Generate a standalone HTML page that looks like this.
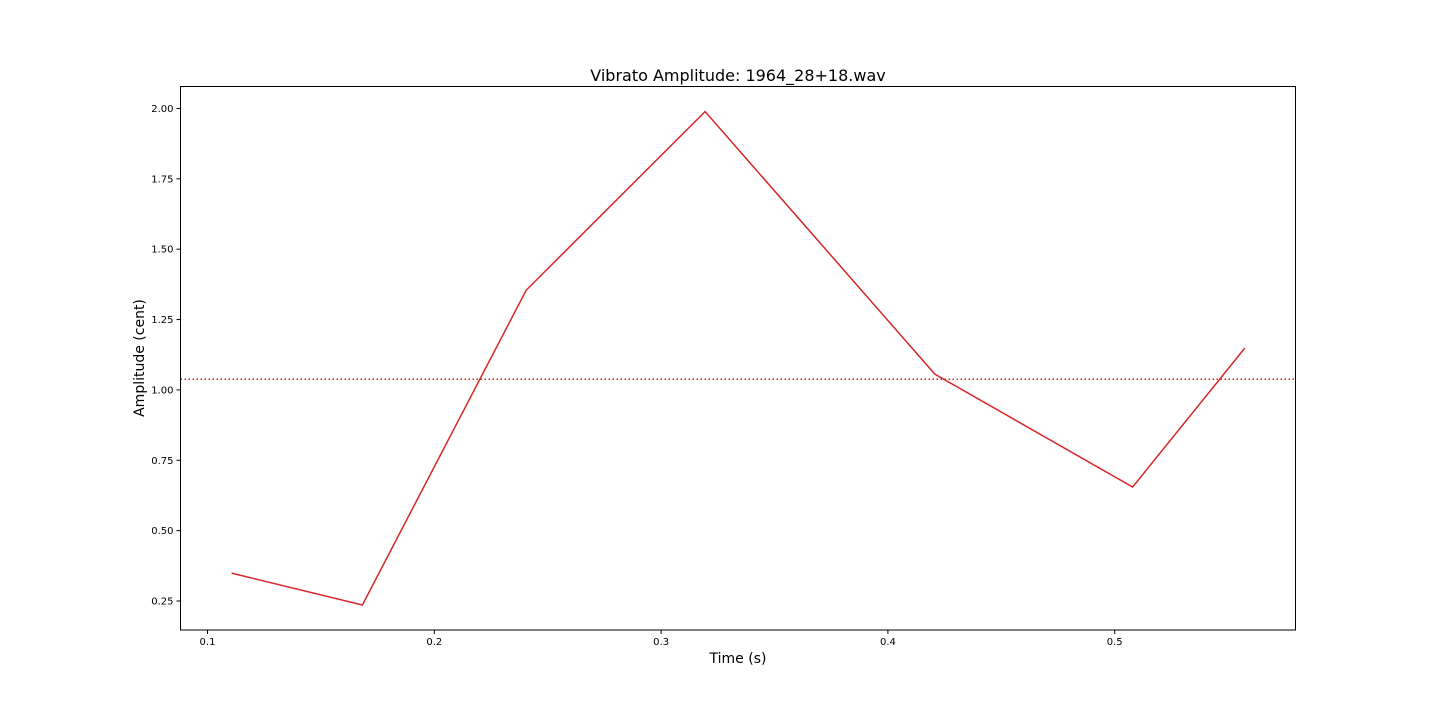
<!DOCTYPE html>
<html><head><meta charset="utf-8"><style>
body{margin:0;background:#fff;}
svg{display:block;font-family:"DejaVu Sans","Liberation Sans",sans-serif;}
</style></head><body>
<svg id="chart" width="1440" height="720">
<rect x="0" y="0" width="1440" height="720" fill="#fff"/>
<text x="738" y="81" text-anchor="middle" font-size="16">Vibrato Amplitude: 1964_28+18.wav</text>
<text x="738" y="663" text-anchor="middle" font-size="14">Time (s)</text>
<text transform="translate(144,358) rotate(-90)" text-anchor="middle" font-size="14">Amplitude (cent)</text>
<g id="ticks"></g>
<g id="marks"></g>
<rect x="180.5" y="86.5" width="1115" height="543.5" fill="none" stroke="#000" stroke-width="1"/>
</svg>
<script>
const times = [0.1106, 0.1683, 0.2405, 0.3194, 0.4207, 0.5079, 0.5573];
const amplitudes = [0.349, 0.236, 1.354, 1.989, 1.056, 0.655, 1.148];
const meanLine = [1.038];
const xTicks = [0.1, 0.2, 0.3, 0.4, 0.5];
const xTickLabels = ["0.1", "0.2", "0.3", "0.4", "0.5"];
const yTicks = [0.25, 0.5, 0.75, 1.0, 1.25, 1.5, 1.75, 2.0];
const yTickLabels = ["0.25", "0.50", "0.75", "1.00", "1.25", "1.50", "1.75", "2.00"];

const L=180.5,R=1295.5,T=86.5,B=630;
const xMin=0.0881,xMax=0.5797,yMin=0.147,yMax=2.078;
const sx=v=>L+(v-xMin)/(xMax-xMin)*(R-L);
const sy=v=>B-(v-yMin)/(yMax-yMin)*(B-T);
const NS="http://www.w3.org/2000/svg";
const tg=document.getElementById('ticks'), mg=document.getElementById('marks');
function mk(tag,attrs,parent){const e=document.createElementNS(NS,tag);for(const k in attrs)e.setAttribute(k,attrs[k]);parent.appendChild(e);return e;}
xTicks.forEach((v,i)=>{
  const x=sx(v);
  const l=mk('line',{x1:x,x2:x,y1:B,y2:B+4,stroke:'#000'},tg);
  
  
  const t=mk('text',{x:x,y:B+15,'text-anchor':'middle','font-size':10},tg);
  t.textContent=xTickLabels[i];
  
  
});
yTicks.forEach((v,i)=>{
  const y=sy(v);
  const l=mk('line',{x1:L-4,x2:L,y1:y,y2:y,stroke:'#000'},tg);
  
  
  const t=mk('text',{x:L-7,y:y+3.5,'text-anchor':'end','font-size':10},tg);
  t.textContent=yTickLabels[i];
  
  
});
const ml=mk('line',{x1:L,x2:R,y1:sy(meanLine[0]),y2:sy(meanLine[0]),stroke:'#d62728','stroke-width':1.5,'stroke-dasharray':'1.5,2.5'},mg);


const pts=times.map((t,i)=>sx(t)+','+sy(amplitudes[i])).join(' ');
const pl=mk('polyline',{points:pts,fill:'none',stroke:'#d62728','stroke-width':1.5},mg);


</script>
</body></html>
